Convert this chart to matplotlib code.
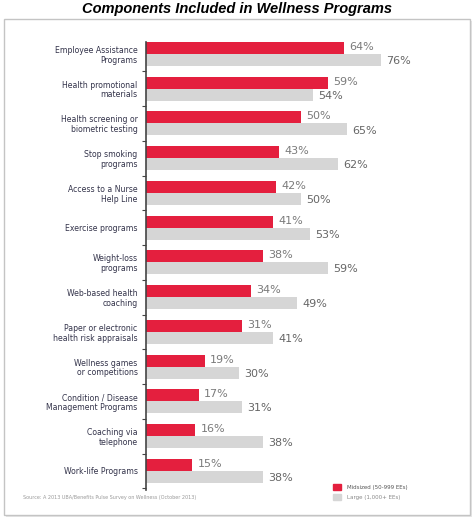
import matplotlib.pyplot as plt
from matplotlib.patches import Rectangle

# Données du graphique
categories = [
    "Employee Assistance\nPrograms",
    "Health promotional\nmaterials",
    "Health screening or\nbiometric testing",
    "Stop smoking\nprograms",
    "Access to a Nurse\nHelp Line",
    "Exercise programs",
    "Weight-loss\nprograms",
    "Web-based health\ncoaching",
    "Paper or electronic\nhealth risk appraisals",
    "Wellness games\nor competitions",
    "Condition / Disease\nManagement Programs",
    "Coaching via\ntelephone",
    "Work-life Programs",
]
midsized = [64, 59, 50, 43, 42, 41, 38, 34, 31, 19, 17, 16, 15]
large = [76, 54, 65, 62, 50, 53, 59, 49, 41, 30, 31, 38, 38]
series_names = ["Midsized (50-999 EEs)", "Large (1,000+ EEs)"]

red = "#e41f3e"
grey = "#d6d6d6"
W, H = 474, 522

fig = plt.figure(figsize=(W / 100, H / 100), dpi=100)

# Cadre gris autour du graphique
fig.add_artist(Rectangle((6 / W, 1 - 517 / H), 466 / W, 496 / H, transform=fig.transFigure,
                         facecolor="#e6e6e6", edgecolor="none", zorder=-2))
fig.add_artist(Rectangle((4 / W, 1 - 515 / H), 466 / W, 496 / H, transform=fig.transFigure,
                         facecolor="white", edgecolor="#c4c4c4", linewidth=1, zorder=-1))

fig.text(237 / W, 1 - 9.5 / H, "Components Included in Wellness Programs", ha="center", va="center",
         fontsize=10.5, fontweight="bold", fontstyle="italic", family="Liberation Sans")

ax = fig.add_axes([146 / W, 1 - 490 / H, 300 / W, 448 / H])
ax.set_zorder(5)
ax.patch.set_alpha(0)
ax.set_xlim(0, 300 / 3.09)
ax.set_ylim(12.55, -0.345)

pos = list(range(len(categories)))
h = 0.345
ax.barh([p - h / 2 for p in pos], midsized, height=h, color=red, label=series_names[0])
ax.barh([p + h / 2 for p in pos], large, height=h, color=grey, label=series_names[1])

for p, a, b in zip(pos, midsized, large):
    ax.text(a + 1.7, p - h / 2 - 0.03, f"{a}%", va="center", ha="left", fontsize=8, color="#7a7a7a")
    ax.text(b + 1.7, p + h / 2 + 0.03, f"{b}%", va="center", ha="left", fontsize=8, color="#666666")

ax.set_yticks(pos)
ax.set_yticklabels(categories, fontsize=5.6, color="#33334a", linespacing=1.1)
ax.tick_params(axis="y", length=0, pad=6)
ax.set_yticks([p + 0.5 for p in pos], minor=True)
ax.tick_params(axis="y", which="minor", length=3, width=0.8, color="#444")
ax.set_xticks([])
for s in ["top", "right", "bottom"]:
    ax.spines[s].set_visible(False)
ax.spines["left"].set_color("#444")
ax.spines["left"].set_linewidth(1.2)

# Légende
fig.add_artist(Rectangle((333 / W, 1 - 490 / H), 8 / W, 6 / H, transform=fig.transFigure, color=red))
fig.add_artist(Rectangle((333 / W, 1 - 500 / H), 8 / W, 6 / H, transform=fig.transFigure, color=grey))
fig.text(347 / W, 1 - 487 / H, series_names[0], fontsize=4, color="#555", va="center")
fig.text(347 / W, 1 - 497 / H, series_names[1], fontsize=4, color="#888", va="center")
fig.text(23 / W, 1 - 497 / H, "Source: A 2013 UBA/Benefits Pulse Survey on Wellness (October 2013)",
         fontsize=3.5, color="#999", va="center")

fig.savefig("out.png", dpi=100)
